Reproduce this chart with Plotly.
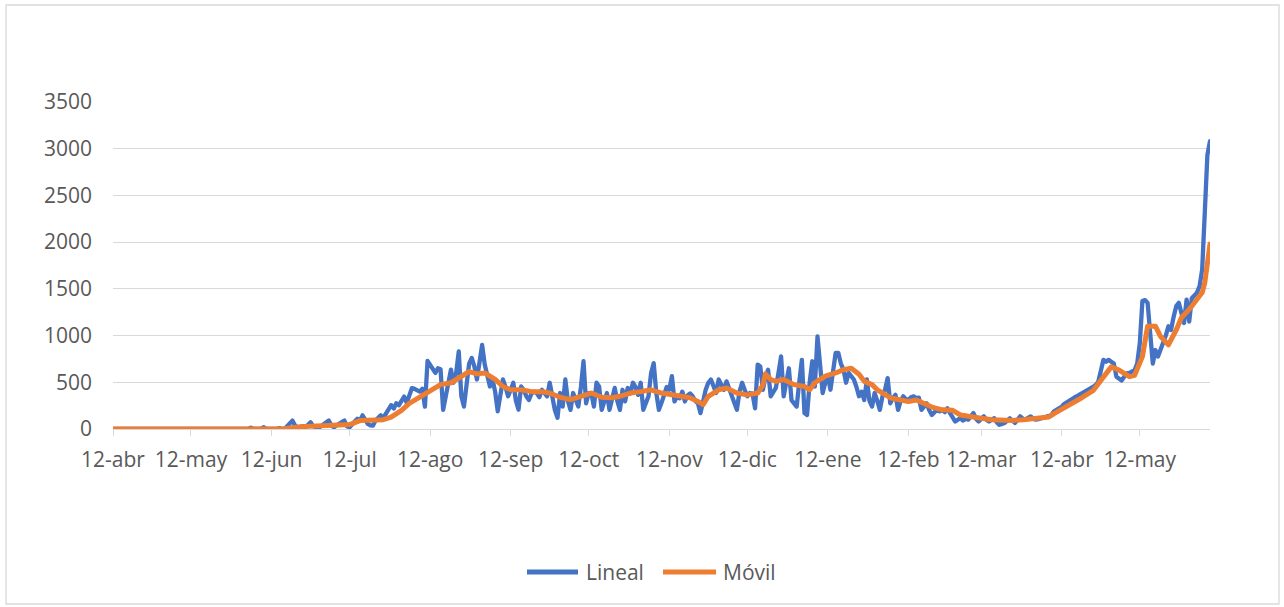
import pandas as pd
import plotly.graph_objects as go

# ---------------- DATA ----------------
# "Lineal": daily values, one list per month (first list starts 12-abr-2020)
lineal_2020_04 = [0, 0, 0, 0, 0, 0, 0, 0, 0, 0, 0, 0, 0, 0, 0, 0, 0, 0, 0]
lineal_2020_05 = [0, 0, 0, 0, 0, 0, 0, 0, 0, 0, 0, 0, 0, 0, 0, 0, 0, 0, 0, 0,
                  0, 0, 0, 0, 0, 0, 0, 0, 0, 0, 0]
lineal_2020_06 = [0, 0, 0, 15, 0, 0, 0, 5, 20, 0, 0, 5, 0, 0, 10, 0, 0, 30, 60, 90,
                  40, 10, 20, 30, 15, 40, 73, 30, 20, 10]
lineal_2020_07 = [30, 50, 70, 90, 40, 18, 40, 60, 80, 90, 30, 18, 50, 80, 110, 90, 146, 100, 55, 40,
                  36, 90, 120, 146, 120, 165, 200, 255, 220, 275, 255]
lineal_2020_08 = [300, 347, 280, 380, 438, 430, 420, 400, 430, 240, 730, 690, 640, 600, 650, 640, 205, 350, 500, 635,
                  495, 600, 830, 350, 240, 500, 700, 760, 670, 530, 700]
lineal_2020_09 = [900, 690, 560, 455, 530, 400, 190, 350, 530, 450, 350, 420, 495, 300, 208, 455, 420, 350, 310, 380,
                  400, 385, 340, 420, 380, 350, 495, 350, 200, 120]
lineal_2020_10 = [385, 240, 530, 300, 205, 385, 300, 240, 450, 725, 275, 385, 385, 240, 495, 455, 205, 300, 385, 205,
                  330, 440, 300, 205, 420, 295, 440, 380, 495, 450, 365]
lineal_2020_11 = [495, 205, 280, 350, 600, 705, 385, 205, 280, 350, 450, 420, 565, 295, 350, 330, 400, 295, 360, 380,
                  350, 300, 275, 170, 300, 420, 495, 530, 460, 385]
lineal_2020_12 = [530, 470, 420, 510, 440, 365, 300, 205, 400, 495, 420, 350, 385, 380, 222, 690, 670, 420, 550, 635,
                  350, 400, 440, 600, 777, 350, 480, 650, 310, 280, 240]
lineal_2021_01 = [500, 740, 170, 150, 500, 725, 455, 990, 690, 385, 495, 565, 420, 600, 815, 815, 700, 635, 495, 600,
                  560, 530, 450, 350, 400, 310, 530, 300, 240, 385, 300]
lineal_2021_02 = [205, 350, 420, 545, 275, 330, 365, 205, 300, 350, 320, 310, 340, 350, 330, 335, 205, 240, 275, 200,
                  150, 180, 205, 190, 205, 180, 222, 170]
lineal_2021_03 = [130, 80, 100, 115, 90, 110, 100, 140, 170, 110, 80, 110, 135, 100, 80, 100, 115, 70, 45, 55,
                  65, 90, 115, 90, 65, 100, 135, 110, 100, 120, 135]
lineal_2021_04 = [110, 100, 105, 115, 120, 130, 135, 150, 190, 205, 230, 240, 270, 290, 310, 325, 340, 355, 370, 380,
                  400, 420, 435, 450, 470, 505, 620, 740, 720, 740]
lineal_2021_05 = [720, 700, 560, 540, 520, 560, 595, 600, 620, 630, 700, 920, 1370, 1380, 1350, 1060, 700, 845, 775, 850,
                  920, 1000, 1100, 1060, 1200, 1315, 1350, 1250, 1135, 1385, 1150]
lineal_2021_06 = [1400, 1440, 1460, 1530, 1710, 2320, 2935, 3080]

lineal_months = [
    ("2020-04-12", lineal_2020_04), ("2020-05-01", lineal_2020_05), ("2020-06-01", lineal_2020_06),
    ("2020-07-01", lineal_2020_07), ("2020-08-01", lineal_2020_08), ("2020-09-01", lineal_2020_09),
    ("2020-10-01", lineal_2020_10), ("2020-11-01", lineal_2020_11), ("2020-12-01", lineal_2020_12),
    ("2021-01-01", lineal_2021_01), ("2021-02-01", lineal_2021_02), ("2021-03-01", lineal_2021_03),
    ("2021-04-01", lineal_2021_04), ("2021-05-01", lineal_2021_05), ("2021-06-01", lineal_2021_06),
]

# "Móvil": moving-average line read at these dates
movil_dates = [
    "2020-04-12", "2020-06-16", "2020-06-23", "2020-06-29",
    "2020-07-06", "2020-07-12", "2020-07-16", "2020-07-20", "2020-07-25", "2020-07-28",
    "2020-08-01", "2020-08-04", "2020-08-08", "2020-08-12", "2020-08-16", "2020-08-20", "2020-08-24", "2020-08-27", "2020-08-30",
    "2020-09-02", "2020-09-06", "2020-09-09", "2020-09-12", "2020-09-16", "2020-09-20", "2020-09-24", "2020-09-27",
    "2020-10-01", "2020-10-05", "2020-10-09", "2020-10-13", "2020-10-17", "2020-10-21", "2020-10-24", "2020-10-28",
    "2020-11-01", "2020-11-05", "2020-11-09", "2020-11-13", "2020-11-16", "2020-11-20", "2020-11-23", "2020-11-25", "2020-11-27",
    "2020-12-01", "2020-12-04", "2020-12-08", "2020-12-12", "2020-12-16", "2020-12-18", "2020-12-19", "2020-12-21", "2020-12-23", "2020-12-26", "2020-12-30",
    "2021-01-03", "2021-01-05", "2021-01-07", "2021-01-11", "2021-01-15", "2021-01-18", "2021-01-21", "2021-01-24", "2021-01-26", "2021-01-29", "2021-01-31",
    "2021-02-03", "2021-02-05", "2021-02-09", "2021-02-12", "2021-02-15", "2021-02-18", "2021-02-21", "2021-02-25",
    "2021-03-01", "2021-03-04", "2021-03-08", "2021-03-12", "2021-03-16", "2021-03-20", "2021-03-24", "2021-03-28", "2021-03-31",
    "2021-04-04", "2021-04-07", "2021-04-09", "2021-04-12", "2021-04-16", "2021-04-20", "2021-04-24", "2021-04-27",
    "2021-05-01", "2021-05-04", "2021-05-08", "2021-05-10", "2021-05-13", "2021-05-15", "2021-05-18", "2021-05-20", "2021-05-23", "2021-05-26", "2021-05-28", "2021-05-31",
    "2021-06-02", "2021-06-05", "2021-06-06", "2021-06-07", "2021-06-08",
]
movil_values = [
    0, 0, 25, 30,
    33, 47, 90, 90, 100, 128,
    200, 275, 345, 410, 475, 495, 565, 615, 590,
    600, 530, 455, 420, 420, 400, 400, 385,
    340, 315, 350, 385, 340, 335, 350, 385,
    400, 420, 385, 365, 350, 335, 295, 260, 350,
    420, 440, 385, 365, 385, 470, 590, 530, 510, 530, 475,
    455, 420, 495, 565, 600, 635, 650, 585, 510, 475, 420,
    365, 335, 310, 295, 310, 275, 235, 205,
    200, 150, 128, 115, 100, 92, 92, 100, 108,
    115, 128, 165, 210, 280, 340, 410, 520,
    665, 630, 560, 575, 775, 1100, 1100, 990, 900, 1060, 1190, 1280,
    1350, 1460, 1565, 1780, 1980,
]

# Axis ticks
tick_dates = ["2020-04-12", "2020-05-12", "2020-06-12", "2020-07-12", "2020-08-12", "2020-09-12",
              "2020-10-12", "2020-11-12", "2020-12-12", "2021-01-12", "2021-02-12", "2021-03-12",
              "2021-04-12", "2021-05-12"]
tick_labels = ["12-abr", "12-may", "12-jun", "12-jul", "12-ago", "12-sep", "12-oct", "12-nov",
               "12-dic", "12-ene", "12-feb", "12-mar", "12-abr", "12-may"]
y_ticks = [0, 500, 1000, 1500, 2000, 2500, 3000, 3500]

series_names = ["Lineal", "Móvil"]
colors = ["#4472C4", "#ED7D31"]

# ---------------- BUILD ----------------
lin_x, lin_y = [], []
for start, vals in lineal_months:
    ds = pd.date_range(start, periods=len(vals), freq="D")
    lin_x.extend(ds)
    lin_y.extend(vals)

W, H = 1284, 607
L, R, T, B = 113, 74, 102, 178
PW, PH = W - L - R, H - T - B


def px(xp):
    return (xp - L) / PW


def py(yp):
    return (H - B - yp) / PH


FONT = "Open Sans"
GRAY = "#595959"
GRID = "#D9D9D9"

fig = go.Figure()
fig.add_trace(go.Scatter(x=lin_x, y=lin_y, mode="lines", name=series_names[0],
                         line=dict(color=colors[0], width=4.3), showlegend=False))
fig.add_trace(go.Scatter(x=pd.to_datetime(movil_dates), y=movil_values, mode="lines", name=series_names[1],
                         line=dict(color=colors[1], width=5), showlegend=False))

fig.update_layout(
    width=W, height=H,
    margin=dict(l=L, r=R, t=T, b=B, pad=0),
    paper_bgcolor="white", plot_bgcolor="white",
    font=dict(family=FONT, size=21, color=GRAY),
    showlegend=False,
)
fig.update_xaxes(
    type="date", range=[lin_x[0], lin_x[-1]],
    tickmode="array", tickvals=pd.to_datetime(tick_dates), ticktext=tick_labels,
    showgrid=False, showline=True, linecolor=GRID, linewidth=1.3,
    ticks="outside", ticklen=6, tickcolor=GRID, tickwidth=1.3,
    ticklabelstandoff=6, zeroline=False,
    tickfont=dict(family=FONT, size=21, color=GRAY),
)
fig.update_yaxes(
    range=[0, 3500], tickmode="array", tickvals=y_ticks, tickformat="d",
    showgrid=True, gridcolor=GRID, gridwidth=1.3, zeroline=False, showline=False,
    ticks="", ticklabelstandoff=20,
    tickfont=dict(family=FONT, size=21, color=GRAY),
)

# chart-area border
fig.add_shape(type="rect", xref="paper", yref="paper",
              x0=px(6), x1=px(1279), y0=py(604), y1=py(5),
              line=dict(color=GRID, width=1.3), fillcolor="rgba(0,0,0,0)", layer="below")

# legend (drawn manually to match Excel's longer line samples)
leg_y = 572
leg_items = [(527, 578, 584), (663, 716, 721)]
for (x0, x1, tx), name, col in zip(leg_items, series_names, colors):
    fig.add_shape(type="line", xref="paper", yref="paper",
                  x0=px(x0), x1=px(x1), y0=py(leg_y), y1=py(leg_y),
                  line=dict(color=col, width=5))
    fig.add_annotation(xref="paper", yref="paper", x=px(tx), y=py(leg_y),
                       text=name, showarrow=False, xanchor="left", yanchor="middle",
                       font=dict(family=FONT, size=21, color=GRAY))

post = ("document.body.style.margin='0';document.body.style.padding='0';"
        "document.querySelectorAll('.scatterlayer path.js-line').forEach(function(p){"
        "p.style.strokeLinejoin='round';p.style.strokeLinecap='round';});")
fig.write_html("out.html", config={"displayModeBar": False}, post_script=post)
